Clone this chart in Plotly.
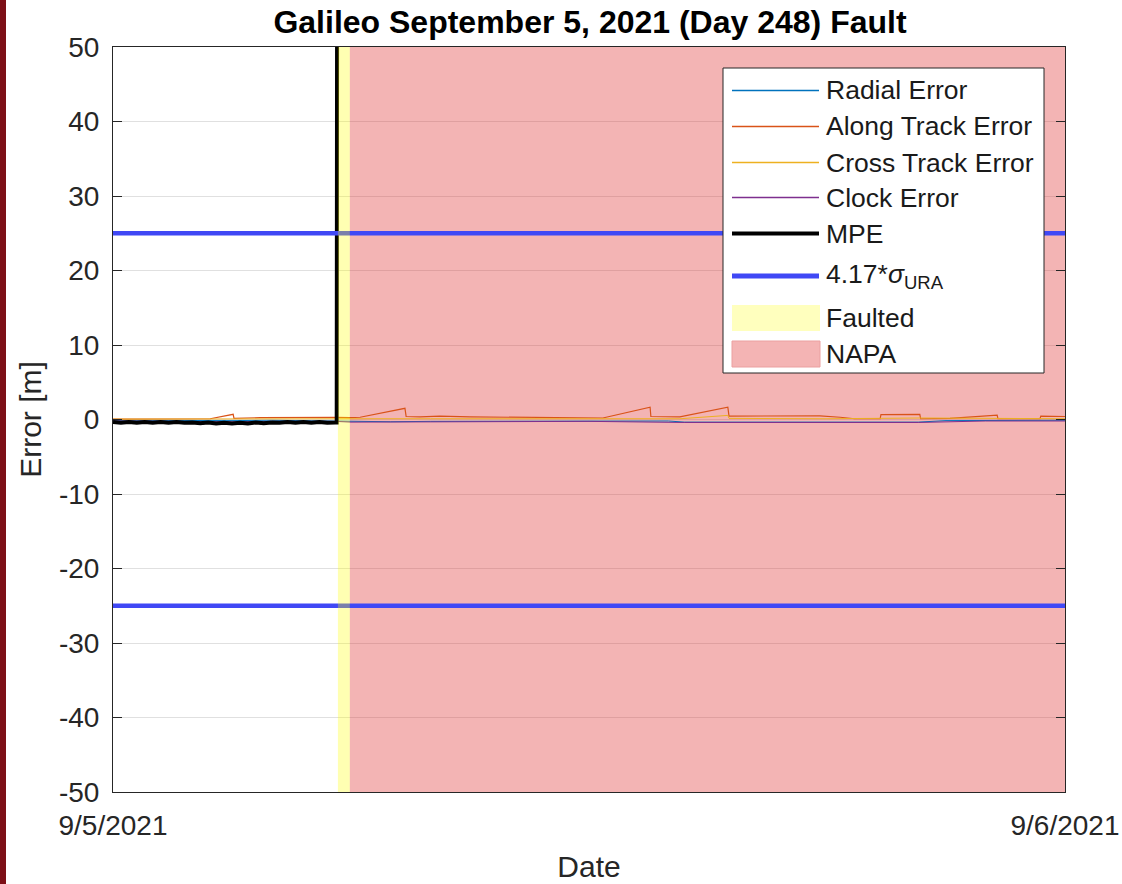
import plotly.graph_objects as go
import pandas as pd

# ---------------- data ----------------
title_text = "Galileo September 5, 2021 (Day 248) Fault"
day0 = pd.Timestamp("2021-09-05")
x_range_h = [0.0, 24.0]
xtick_h = [0.0, 24.0]
xtick_labels = ["9/5/2021", "9/6/2021"]
ytick_vals = [-50, -40, -30, -20, -10, 0, 10, 20, 30, 40, 50]
ytick_labels = [str(v) for v in ytick_vals]

fault_start_h, fault_end_h = 5.67, 5.97
napa_start_h, napa_end_h = 5.97, 24.0
sigma_bound = 25.0  # 4.17*sigma_URA [m]

radial_t = [0.0, 1.0, 2.0, 2.6, 3.0, 4.0, 5.0, 5.6, 6.0, 7.0, 8.0, 10.0, 12.0, 14.0, 14.4, 16.0, 18.0, 20.3, 21.0, 22.5, 24.0]
radial_v = [-0.1, -0.15, -0.1, -0.2, -0.15, -0.1, -0.15, -0.2, -0.3, -0.3, -0.25, -0.2, -0.2, -0.2, -0.35, -0.35, -0.3, -0.35, -0.15, -0.1, -0.1]

along_t = [0.0, 0.93, 1.94, 2.45, 3.03, 3.05, 3.71, 4.71, 5.62, 5.97, 6.23, 7.36, 7.39, 7.74, 8.24, 9.0, 9.76,
           11.02, 12.35, 13.54, 13.56, 14.29, 15.5, 15.53, 16.31, 17.07, 17.82, 18.33, 18.7, 19.34, 19.36,
           20.34, 20.36, 21.1, 22.29, 22.31, 23.37, 23.39, 24.0]
along_v = [0.05, 0.1, 0.1, 0.1, 0.7, 0.15, 0.25, 0.3, 0.3, 0.25, 0.3, 1.5, 0.4, 0.35, 0.45, 0.35, 0.3,
           0.25, 0.2, 1.65, 0.4, 0.35, 1.65, 0.45, 0.5, 0.55, 0.5, 0.3, 0.1, 0.1, 0.65,
           0.7, 0.1, 0.15, 0.6, 0.1, 0.1, 0.45, 0.4]

cross_t = [0.0, 2.0, 4.0, 5.6, 6.0, 8.0, 10.0, 12.0, 14.29, 15.5, 15.53, 18.0, 19.34, 20.34, 22.29, 24.0]
cross_v = [0.05, 0.1, 0.1, 0.15, 0.1, 0.1, 0.1, 0.05, 0.1, 0.55, 0.15, 0.1, 0.2, 0.2, 0.15, 0.1]

clock_t = [0.0, 1.0, 2.0, 3.0, 4.0, 5.0, 5.6, 6.0, 8.0, 10.0, 12.0, 14.4, 16.0, 18.0, 20.3, 22.0, 24.0]
clock_v = [-0.2, -0.25, -0.2, -0.3, -0.25, -0.2, -0.25, -0.35, -0.3, -0.3, -0.25, -0.4, -0.4, -0.35, -0.4, -0.2, -0.2]

mpe_t = [0.0, 0.2, 0.4, 0.6, 0.8, 1.0, 1.2, 1.4, 1.6, 1.8, 2.0, 2.2, 2.4, 2.6, 2.8, 3.0, 3.2, 3.4, 3.6,
         3.8, 4.0, 4.2, 4.4, 4.6, 4.8, 5.0, 5.2, 5.4, 5.6, 5.64, 5.66]
mpe_v = [-0.35, -0.45, -0.35, -0.45, -0.35, -0.45, -0.35, -0.45, -0.35, -0.45, -0.4, -0.5, -0.4, -0.55, -0.45,
         -0.55, -0.45, -0.55, -0.4, -0.5, -0.4, -0.45, -0.35, -0.45, -0.35, -0.45, -0.35, -0.45, -0.4, -0.4, 120.0]

legend_labels = ["Radial Error", "Along Track Error", "Cross Track Error", "Clock Error", "MPE",
                 "4.17*<i>σ</i><sub>URA</sub>", "Faulted", "NAPA"]

# ---------------- helpers ----------------
def to_dt(hours):
    return [day0 + pd.Timedelta(hours=h) for h in hours]

FONT = "Liberation Sans, Arial, Helvetica, sans-serif"
AX = "#262626"
C_RAD, C_ALONG, C_CROSS, C_CLOCK = "#0072BD", "#D95319", "#EDB120", "#7E2F8E"
C_MPE, C_SIG = "#000000", "rgb(64,72,245)"
C_FAULT = "rgba(255,255,0,0.30)"
C_NAPA = "rgba(220,40,40,0.35)"

L, R, T, B = 113, 57, 47, 92
W, H = 1122, 884
PW, PH = W - L - R, H - T - B

def px_x(px):
    return (px - L) / PW

def px_y(py):
    return (H - B - py) / PH

fig = go.Figure()
fig.add_trace(go.Scatter(x=to_dt(radial_t), y=radial_v, mode="lines", line=dict(color=C_RAD, width=1), name="Radial Error", showlegend=False))
fig.add_trace(go.Scatter(x=to_dt(along_t), y=along_v, mode="lines", line=dict(color=C_ALONG, width=1.2), name="Along Track Error", showlegend=False))
fig.add_trace(go.Scatter(x=to_dt(cross_t), y=cross_v, mode="lines", line=dict(color=C_CROSS, width=1), name="Cross Track Error", showlegend=False))
fig.add_trace(go.Scatter(x=to_dt(clock_t), y=clock_v, mode="lines", line=dict(color=C_CLOCK, width=1), name="Clock Error", showlegend=False))
fig.add_trace(go.Scatter(x=to_dt(mpe_t), y=mpe_v, mode="lines", line=dict(color=C_MPE, width=4), name="MPE", showlegend=False))
fig.add_trace(go.Scatter(x=to_dt(x_range_h), y=[sigma_bound, sigma_bound], mode="lines", line=dict(color=C_SIG, width=4.5), name="+4.17σ", showlegend=False))
fig.add_trace(go.Scatter(x=to_dt(x_range_h), y=[-sigma_bound, -sigma_bound], mode="lines", line=dict(color=C_SIG, width=4.5), name="-4.17σ", showlegend=False))

shapes = []
# NAPA and fault regions
shapes.append(dict(type="rect", xref="x", yref="y", x0=to_dt([napa_start_h])[0], x1=to_dt([napa_end_h])[0],
                   y0=-50, y1=50, fillcolor=C_NAPA, line=dict(width=0), layer="between"))
shapes.append(dict(type="rect", xref="x", yref="y", x0=to_dt([fault_start_h])[0], x1=to_dt([fault_end_h])[0],
                   y0=-50, y1=50, fillcolor=C_FAULT, line=dict(width=0), layer="above"))
# dark border at the left edge of the picture
shapes.append(dict(type="rect", xref="paper", yref="paper", x0=px_x(-2), x1=px_x(6), y0=px_y(H + 2), y1=px_y(-2),
                   fillcolor="#7d0f17", line=dict(width=0), layer="above"))

# manual legend (MATLAB style)
shapes.append(dict(type="rect", xref="paper", yref="paper", x0=px_x(723), x1=px_x(1044), y0=px_y(373), y1=px_y(68),
                   fillcolor="white", line=dict(color=AX, width=1), layer="above"))
row_y = [90.5, 126.5, 162.5, 197.5, 233.5, 276, 318, 354]
line_styles = [(C_RAD, 1.5), (C_ALONG, 1.5), (C_CROSS, 1.5), (C_CLOCK, 1.5), (C_MPE, 4), (C_SIG, 5)]
for (col, w), yy in zip(line_styles, row_y[:6]):
    shapes.append(dict(type="line", xref="paper", yref="paper", x0=px_x(732), x1=px_x(819), y0=px_y(yy), y1=px_y(yy),
                       line=dict(color=col, width=w), layer="above"))
shapes.append(dict(type="rect", xref="paper", yref="paper", x0=px_x(732), x1=px_x(820), y0=px_y(331), y1=px_y(305),
                   fillcolor="rgb(255,255,190)", line=dict(width=0), layer="above"))
shapes.append(dict(type="rect", xref="paper", yref="paper", x0=px_x(732), x1=px_x(820), y0=px_y(367), y1=px_y(341),
                   fillcolor="rgb(244,180,180)", line=dict(color="rgb(235,160,160)", width=1), layer="above"))

annotations = []
for lab, yy in zip(legend_labels, row_y):
    annotations.append(dict(xref="paper", yref="paper", x=px_x(824), y=px_y(yy), text=lab, showarrow=False,
                            xanchor="left", yanchor="middle", font=dict(family=FONT, size=26.5, color="#1a1a1a")))

fig.update_layout(
    width=W, height=H, autosize=False,
    margin=dict(l=L, r=R, t=T, b=B, autoexpand=False),
    paper_bgcolor="white", plot_bgcolor="white",
    font=dict(family=FONT, color=AX),
    title=dict(text="<b>" + title_text + "</b>", x=(L + px_x(590) * PW) / W, xanchor="center",
               y=1 - 22 / H, yanchor="middle", font=dict(family=FONT, size=32, color="#000000")),
    shapes=shapes, annotations=annotations,
    showlegend=False,
)
fig.update_xaxes(
    type="date", range=to_dt(x_range_h), tickvals=to_dt(xtick_h), ticktext=xtick_labels,
    ticks="inside", ticklen=9, tickcolor=AX, showline=True, linecolor=AX, linewidth=1, mirror="ticks",
    showgrid=False, zeroline=False, tickfont=dict(family=FONT, size=28, color=AX), ticklabelstandoff=8,
    title=dict(text="Date", font=dict(family=FONT, size=30, color=AX), standoff=16), automargin=False,
)
fig.update_yaxes(
    range=[-50, 50], tickvals=ytick_vals, ticktext=ytick_labels,
    ticks="inside", ticklen=9, tickcolor=AX, showline=True, linecolor=AX, linewidth=1, mirror="ticks",
    showgrid=True, gridcolor="#e0e0e0", gridwidth=1, zeroline=False,
    tickfont=dict(family=FONT, size=28, color=AX), ticklabelstandoff=7,
    title=dict(text="Error [m]", font=dict(family=FONT, size=30, color=AX), standoff=8), automargin=False,
)

fig.write_html("out.html", config={"displayModeBar": False},
               post_script="document.body.style.margin='0';document.body.style.overflow='hidden';")
